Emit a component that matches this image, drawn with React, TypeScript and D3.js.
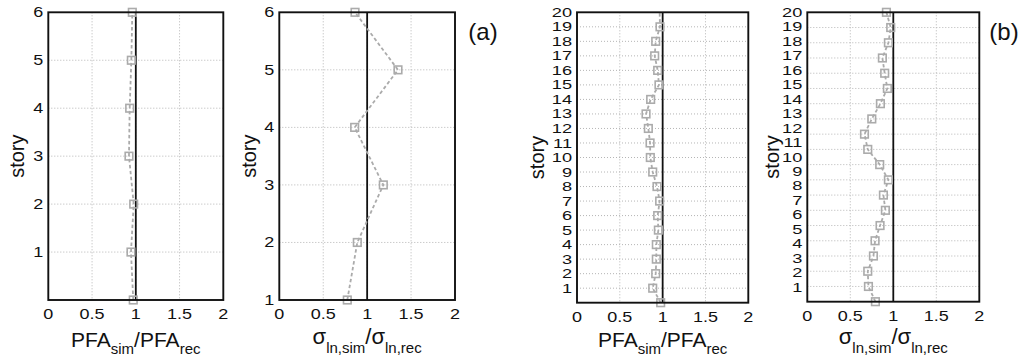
import React from "react";
import * as d3 from "d3";

// ---- data ----
const storiesA1 = [0, 1, 2, 3, 4, 5, 6];
const pfaA = [0.971, 0.945, 0.976, 0.922, 0.93, 0.949, 0.96];

const storiesA2 = [1, 2, 3, 4, 5, 6];
const sigA = [0.774, 0.888, 1.184, 0.858, 1.351, 0.862];

const storiesB1 = [0, 1, 2, 3, 4, 5, 6, 7, 8, 9, 10, 11, 12, 13, 14, 15, 16, 17, 18, 19, 20];
const pfaB = [0.977, 0.884, 0.919, 0.926, 0.926, 0.95, 0.942, 0.965, 0.934, 0.884, 0.856, 0.853, 0.833, 0.806, 0.86, 0.957, 0.942, 0.907, 0.919, 0.969, 0.965];
const pfaBMarked = [true, true, true, true, true, true, true, true, true, true, true, true, true, true, true, true, true, true, true, true, false];

const storiesB2 = [1, 2, 3, 4, 5, 6, 7, 8, 9, 10, 11, 12, 13, 14, 15, 16, 17, 18, 19, 20];
const sigB = [0.792, 0.711, 0.703, 0.769, 0.788, 0.846, 0.908, 0.885, 0.943, 0.842, 0.703, 0.665, 0.75, 0.85, 0.931, 0.9, 0.873, 0.943, 0.97, 0.92];

const xTicks = [0, 0.5, 1, 1.5, 2];
const xTickLabels = ["0", "0.5", "1", "1.5", "2"];
const yTicksA = [1, 2, 3, 4, 5, 6];
const yTicksB = d3.range(1, 21);

const FONT = "'Liberation Sans', Arial, Helvetica, sans-serif";
const GRAY = "#ababab";

type PanelProps = {
  left: number; right: number; top: number; bottom: number;
  yDomain: [number, number];
  labelDomain: [number, number];
  yTicks: number[];
  gridY: number[];
  xs: number[]; ys: number[]; marked?: boolean[];
  yFont: number; ySx: number;
  storyX: number;
  title: "pfa" | "sigma";
};

function Panel(p: PanelProps) {
  const x = d3.scaleLinear().domain([0, 2]).range([p.left, p.right]);
  const y = d3.scaleLinear().domain(p.yDomain).range([p.bottom, p.top]);
  const yl = d3.scaleLinear().domain(p.labelDomain).range([p.bottom, p.top]);
  const pts = p.xs.map((v, i) => [v, p.ys[i]] as [number, number]);
  const line = d3.line<[number, number]>().x(d => x(d[0])).y(d => y(d[1]))(pts) || "";
  const cx = (p.left + p.right) / 2;
  const cy = (p.top + p.bottom) / 2;
  return (
    <g>
      {[0.5, 1, 1.5].map(t => (
        <line key={"gx" + t} x1={x(t)} x2={x(t)} y1={p.top} y2={p.bottom} stroke="#b5b5b5" strokeWidth={1} strokeDasharray="1,2" />
      ))}
      {p.gridY.map(t => (
        <line key={"gy" + t} x1={p.left} x2={p.right} y1={y(t)} y2={y(t)} stroke="#b5b5b5" strokeWidth={1} strokeDasharray="1,2" />
      ))}
      <line x1={x(1)} x2={x(1)} y1={p.top} y2={p.bottom} stroke="#111" strokeWidth={1.8} />
      <path d={line} fill="none" stroke={GRAY} strokeWidth={1.8} strokeDasharray="3.5,2.5" />
      {pts.map((d, i) => (p.marked && !p.marked[i]) ? null : (
        <rect key={"m" + i} x={x(d[0]) - 3.8} y={y(d[1]) - 3.8} width={7.6} height={7.6} fill="none" stroke={GRAY} strokeWidth={1.6} />
      ))}
      <rect x={p.left} y={p.top} width={p.right - p.left} height={p.bottom - p.top} fill="none" stroke="#111" strokeWidth={1.9} />
      {xTicks.map((t, i) => (
        <text key={"xt" + t} transform={`translate(${x(t)},${p.bottom + 19}) scale(1.2,1)`} textAnchor="middle" fontSize={15} fontFamily={FONT} fill="#111">{xTickLabels[i]}</text>
      ))}
      {p.yTicks.map(t => (
        <text key={"yt" + t} transform={`translate(${p.left - 5},${yl(t)}) scale(${p.ySx},1)`} textAnchor="end" dominantBaseline="central" fontSize={p.yFont} fontFamily={FONT} fill="#111">{t}</text>
      ))}
      <text transform={`translate(${p.storyX},${cy}) rotate(-90)`} textAnchor="middle" dominantBaseline="central" fontSize={20} fontFamily={FONT} fill="#111">story</text>
      {p.title === "pfa" ? (
        <text x={cx} y={347} textAnchor="middle" fontSize={21} fontFamily={FONT} fill="#111">
          <tspan>PFA</tspan>
          <tspan dy={7} fontSize={15}>sim</tspan>
          <tspan dy={-7}>/PFA</tspan>
          <tspan dy={7} fontSize={15}>rec</tspan>
        </text>
      ) : (
        <text x={cx} y={344} textAnchor="middle" fontSize={22} fontFamily={FONT} fill="#111">
          <tspan>σ</tspan>
          <tspan dy={9} fontSize={15}>ln,sim</tspan>
          <tspan dy={-9}>/σ</tspan>
          <tspan dy={9} fontSize={15}>ln,rec</tspan>
        </text>
      )}
    </g>
  );
}

export default function App() {
  return (
    <svg width={1027} height={364} style={{ position: "absolute", left: 0, top: 0, background: "#fff" }}>
      <rect x={0} y={0} width={1027} height={364} fill="#fff" />
      <Panel left={48.3} right={223.3} top={12.3} bottom={300} yDomain={[0, 6]} labelDomain={[0, 6]}
        yTicks={yTicksA} gridY={[1, 2, 3, 4, 5]} xs={pfaA} ys={storiesA1}
        yFont={15} ySx={1.2} storyX={17} title="pfa" />
      <Panel left={279.3} right={455} top={12.3} bottom={300} yDomain={[1, 6]} labelDomain={[1, 6]}
        yTicks={yTicksA} gridY={[2, 3, 4, 5]} xs={sigA} ys={storiesA2}
        yFont={15} ySx={1.2} storyX={249} title="sigma" />
      <Panel left={577} right={748.3} top={12.3} bottom={302.7} yDomain={[0, 20]} labelDomain={[0, 20]}
        yTicks={yTicksB} gridY={d3.range(1, 20)} xs={pfaB} ys={storiesB1} marked={pfaBMarked}
        yFont={13} ySx={1.4} storyX={537} title="pfa" />
      <Panel left={807.3} right={979.3} top={12.3} bottom={301.7} yDomain={[1, 20]} labelDomain={[0, 20]}
        yTicks={yTicksB} gridY={d3.range(2, 20)} xs={sigB} ys={storiesB2}
        yFont={13} ySx={1.4} storyX={772} title="sigma" />
      <text x={483} y={40} textAnchor="middle" fontSize={24} fontFamily={FONT} fill="#111">(a)</text>
      <text x={1004} y={40} textAnchor="middle" fontSize={24} fontFamily={FONT} fill="#111">(b)</text>
    </svg>
  );
}
